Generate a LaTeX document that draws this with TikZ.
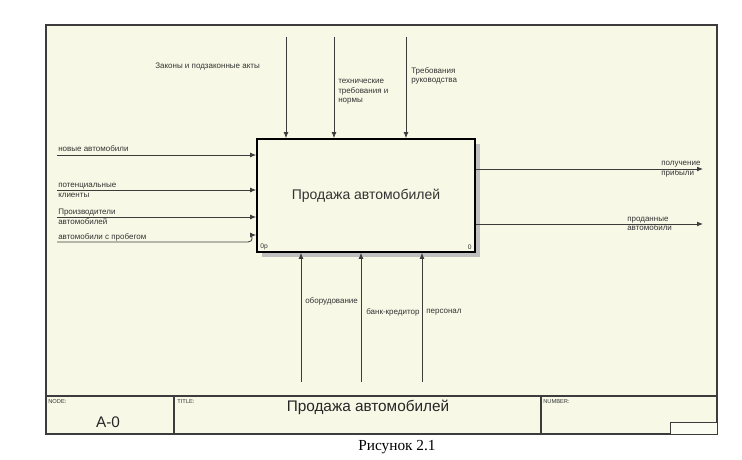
\documentclass[tikz,border=0pt]{standalone}
\usepackage{fontspec}
\setmainfont{Liberation Sans}
\newfontfamily\capfont{Liberation Serif}
\usepackage{tikz}
\usetikzlibrary{
arrows,
arrows.meta,
positioning,
calc
}
\definecolor{bgyel}{RGB}{247,249,230}
\definecolor{lncol}{RGB}{60,60,60}

\begin{document}
\begin{tikzpicture}[x=0.75pt,y=-0.75pt,
    lbl/.style={font=\fontsize{6}{7.1}\selectfont,text=black!80,inner sep=0pt,align=left,anchor=west},
    tinylbl/.style={font=\fontsize{4.3}{5}\selectfont,text=black!80,inner sep=0pt,anchor=west},
    arr/.style={-{Latex[length=4.5pt,width=3.6pt]},draw=lncol,line width=0.6pt}]
      \useasboundingbox (0,0) rectangle (742,460);
      \draw[lncol,line width=0.9pt,fill=bgyel] (46,25) rectangle (717,434);
      \draw[lncol,line width=0.8pt] (46,396) -- (717,396);
      \draw[lncol,line width=0.8pt] (174,396) -- (174,434);
      \draw[lncol,line width=0.8pt] (541,396) -- (541,434);
      \draw[lncol,line width=0.6pt,fill=white!50!bgyel] (670,422) rectangle (717,434);
      \fill[gray!50] (262,144) rectangle (480,257);
      \node[draw=black,line width=1.2pt,fill=bgyel,minimum width=163.5pt,minimum height=84.75pt,
            font=\fontsize{10.5}{12}\selectfont,text=black!80] (act) at (366,195.5) {Продажа автомобилей};
      \node[tinylbl,font=\fontsize{5}{6}\selectfont] (nump) at ($(act.south west)+(4,-6)$) {0р};
      \node[tinylbl,font=\fontsize{5}{6}\selectfont,anchor=east] (numc) at ($(act.south east)+(-4,-6)$) {0};

      \coordinate (t1) at (286,37);
      \coordinate (t2) at (334,37);
      \coordinate (t3) at (406,37);
      \draw[arr] (t1) -- (t1 |- act.north);
      \draw[arr] (t2) -- (t2 |- act.north);
      \draw[arr] (t3) -- (t3 |- act.north);
      \node[lbl] (lzak) at (155,67) {Законы и подзаконные акты};
      \node[lbl] (ltech) at (338,92) {технические\\требования и\\нормы};
      \node[lbl] (ltreb) at (411,76) {Требования\\руководства};

      \coordinate (i1) at (57,155);
      \coordinate (i2) at (57,190);
      \coordinate (i3) at (57,217);
      \coordinate (i4) at (57,242);
      \draw[arr] (i1) -- (i1 -| act.west);
      \draw[arr] (i2) -- (i2 -| act.west);
      \draw[arr] (i3) -- (i3 -| act.west);
      \draw[arr] (i4) -- (248,242) .. controls (254,242) and (252,235) .. ($(i4 -| act.west)+(0,-7)$);
      \node[lbl] (lnew) at (58,149) {новые автомобили};
      \node[lbl] (lpot) at (58,190.5) {потенциальные\\клиенты};
      \node[lbl] (lproi) at (58,217) {Производители\\автомобилей};
      \node[lbl] (lprob) at (58,237) {автомобили с пробегом};

      \coordinate (o1) at (703,169);
      \coordinate (o2) at (703,224);
      \draw[arr] (o1 -| act.east) -- (o1);
      \draw[arr] (o2 -| act.east) -- (o2);
      \node[lbl] (lprib) at (661,169) {получение\\прибыли};
      \node[lbl] (lprod) at (627,224) {проданные\\автомобили};

      \coordinate (b1) at (301,382);
      \coordinate (b2) at (361,382);
      \coordinate (b3) at (422,382);
      \draw[arr] (b1) -- (b1 |- act.south);
      \draw[arr] (b2) -- (b2 |- act.south);
      \draw[arr] (b3) -- (b3 |- act.south);
      \node[lbl] (lobor) at (305,301) {оборудование};
      \node[lbl] (lbank) at (366,312) {банк-кредитор};
      \node[lbl] (lpers) at (426,312) {персонал};

      \node[tinylbl] (hnode) at (48,402) {NODE:};
      \node[tinylbl] (htitle) at (177,402) {TITLE:};
      \node[tinylbl] (hnum) at (543,402) {NUMBER:};
      \node[font=\fontsize{11.5}{13}\selectfont,text=black!85] (ndnum) at (108,422) {A-0};
      \node[font=\fontsize{11.5}{13}\selectfont,text=black!85] (ndtitle) at (368,407) {Продажа автомобилей};
      \node[font=\capfont\fontsize{11.5}{13}\selectfont] (fig) at (397,447) {Рисунок 2.1};
    \end{tikzpicture}
\end{document}
